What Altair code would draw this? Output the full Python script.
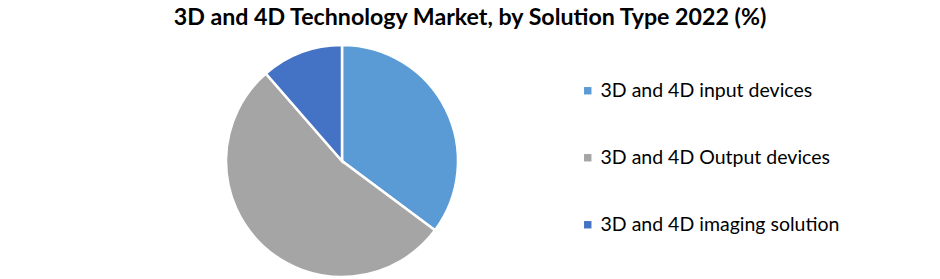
import altair as alt
import pandas as pd

categories = ["3D and 4D input devices", "3D and 4D Output devices", "3D and 4D imaging solution"]
shares = [35.2, 53.4, 11.4]
colors = ["#5B9BD5", "#A5A5A5", "#4472C4"]

df = pd.DataFrame({"Solution": categories, "Share": shares, "Order": list(range(len(categories)))})

chart = alt.Chart(df).mark_arc(outerRadius=116, stroke="white", strokeWidth=2.5).encode(
    theta=alt.Theta("Share:Q", stack=True),
    order=alt.Order("Order:Q"),
    color=alt.Color(
        "Solution:N",
        sort=categories,
        scale=alt.Scale(domain=categories, range=colors),
        legend=alt.Legend(
            title=None,
            orient="none",
            legendX=578,
            legendY=81,
            symbolType="square",
            symbolSize=55,
            symbolStrokeWidth=0,
            labelFont="Lato",
            labelFontSize=19.5,
            labelColor="#000000",
            labelLimit=400,
            rowPadding=46,
            labelOffset=3,
        ),
    ),
    x=alt.value(342),
    y=alt.value(161),
).properties(
    width=940,
    height=279,
    title=alt.Title(
        "3D and 4D Technology Market, by Solution Type 2022 (%)",
        font="Lato",
        fontSize=23.2,
        fontWeight="bold",
        color="#000000",
        anchor="middle",
        orient="top",
        offset=-30,
    ),
).configure_view(stroke=None).properties(
    padding=0, autosize="none"
)

chart.save("out.html", embed_options={"renderer": "svg", "actions": False})
